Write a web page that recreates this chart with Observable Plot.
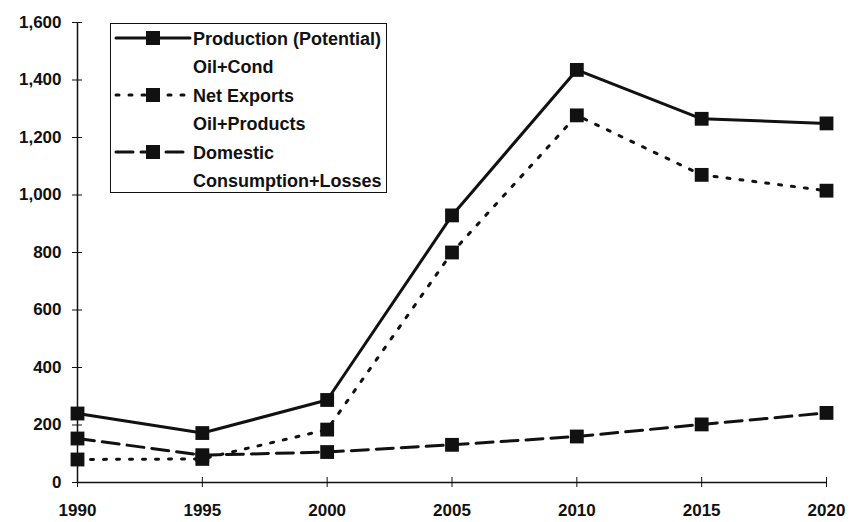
<!DOCTYPE html>
<html><head><meta charset="utf-8">
<script src="https://cdn.jsdelivr.net/npm/d3@7"></script>
<script src="https://cdn.jsdelivr.net/npm/@observablehq/plot@0.6"></script>
<style>
body{margin:0;background:#fff;}
#wrap{position:relative;width:853px;height:522px;font-family:"Liberation Sans",Arial,sans-serif;}
#legend{position:absolute;left:110px;top:23px;width:277px;height:170px;border:1.5px solid #111;background:#fff;box-sizing:border-box;}
.row{position:absolute;left:0;height:56px;width:277px;}
.row svg{position:absolute;left:3px;top:4px;}
.row .t{position:absolute;left:82px;top:1px;font-size:18px;font-weight:bold;line-height:28px;color:#111;white-space:nowrap;}
</style></head>
<body><div id="wrap"></div>
<script>
const years = [1990, 1995, 2000, 2005, 2010, 2015, 2020];
const production = [240, 172, 287, 929, 1435, 1265, 1249];
const netExports = [80, 82, 184, 800, 1277, 1070, 1015];
const domestic = [153, 95, 106, 131, 160, 202, 242];
const yTicks = [0, 200, 400, 600, 800, 1000, 1200, 1400, 1600];
const seriesNames = ["Production (Potential)\nOil+Cond", "Net Exports\nOil+Products", "Domestic\nConsumption+Losses"];
const dashes = [null, "3,10", "17,8"];

const rows = [];
[production, netExports, domestic].forEach((vals, i) => {
  years.forEach((y, j) => rows.push({year: y, value: vals[j], s: i}));
});

const ink = "#111";
const marks = [
  Plot.ruleX([1990], {stroke: ink, strokeWidth: 1.5}),
  Plot.ruleY([0], {stroke: ink, strokeWidth: 1.5}),
  Plot.axisY({ticks: yTicks, tickFormat: d3.format(","), tickSize: 5, tickPadding: 11, stroke: ink, fill: ink, label: null}),
  Plot.axisY({ticks: yTicks, tickFormat: () => "", tickSize: -5, stroke: ink, label: null}),
  Plot.axisX({ticks: years, tickFormat: d => String(d), tickSize: 5, tickPadding: 16, stroke: ink, fill: ink, label: null}),
  Plot.axisX({ticks: years, tickFormat: () => "", tickSize: -5, stroke: ink, label: null})
];
[0, 1, 2].forEach(i => {
  const d = rows.filter(r => r.s === i);
  marks.push(Plot.line(d, {x: "year", y: "value", stroke: ink, strokeWidth: 3, strokeDasharray: dashes[i], strokeLinecap: "round"}));
  marks.push(Plot.dot(d, {x: "year", y: "value", symbol: "square", r: 7.8, fill: ink, stroke: "none"}));
});

const chart = Plot.plot({
  width: 853, height: 522,
  marginLeft: 77, marginRight: 27, marginTop: 22, marginBottom: 40,
  x: {domain: [1990, 2020], axis: null},
  y: {domain: [0, 1600], axis: null},
  style: {fontFamily: "'Liberation Sans', Arial, sans-serif", fontSize: "17px", fontWeight: "bold", background: "#fff", color: ink},
  marks
});
const wrap = document.getElementById("wrap");
wrap.appendChild(chart);

const legend = document.createElement("div");
legend.id = "legend";
seriesNames.forEach((name, i) => {
  const row = document.createElement("div");
  row.className = "row";
  row.style.top = (i * 57) + "px";
  const da = dashes[i] ? `stroke-dasharray="${dashes[i]}"` : "";
  row.innerHTML = `<svg width="78" height="20"><line x1="2" y1="10" x2="76" y2="10" stroke="${ink}" stroke-width="3" stroke-linecap="round" ${da}/><rect x="32" y="3" width="14" height="14" fill="${ink}"/></svg>` +
    `<div class="t">${name.split("\n").join("<br>")}</div>`;
  legend.appendChild(row);
});
wrap.appendChild(legend);
</script></body></html>
